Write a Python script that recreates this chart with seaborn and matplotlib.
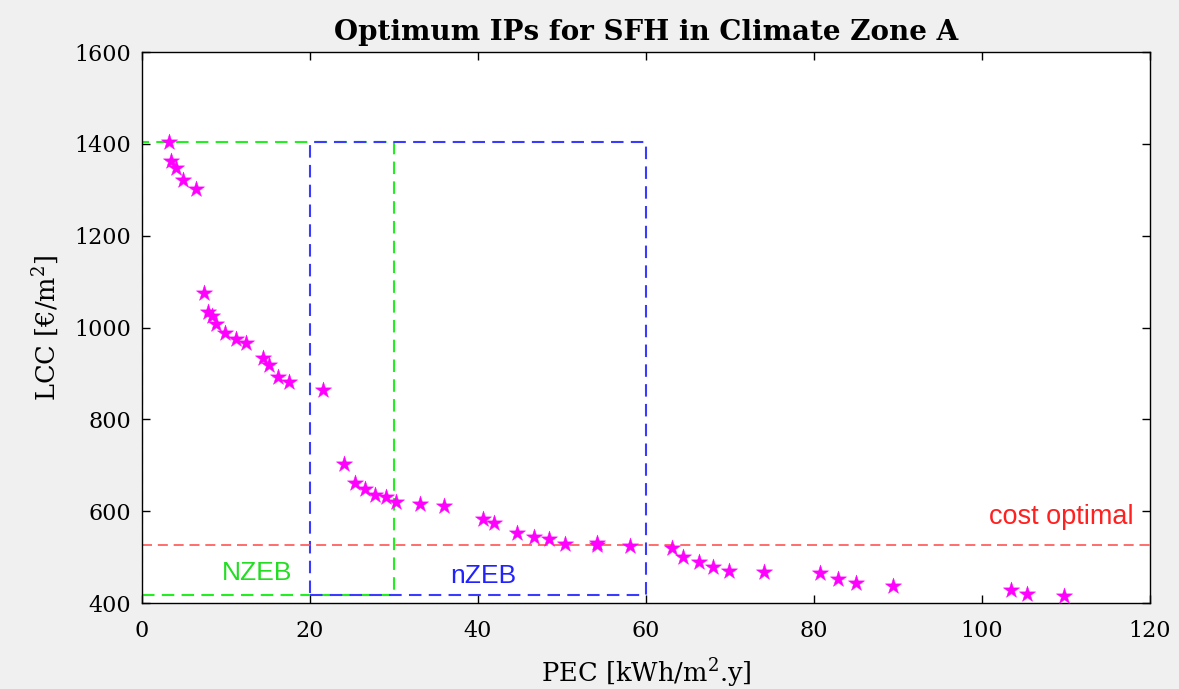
import matplotlib
matplotlib.use("Agg")
import matplotlib.pyplot as plt
import seaborn as sns
import pandas as pd

# Optimum intervention packages: primary energy consumption vs life-cycle cost
pec = [3.2, 3.5, 4.1, 4.9, 6.4, 7.4, 7.9, 8.3, 8.8, 9.9, 11.2, 12.4, 14.4, 15.1,
       16.2, 17.5, 21.6, 24.1, 25.4, 26.5, 27.8, 29.0, 30.2, 33.1, 35.9, 40.6,
       41.9, 44.7, 46.7, 48.5, 50.4, 54.2, 54.2, 58.1, 63.1, 64.4, 66.3, 68.0,
       69.9, 74.0, 80.7, 82.8, 85.0, 89.4, 103.5, 105.4, 109.8]
lcc = [1403, 1363, 1348, 1321, 1302, 1076, 1034, 1026, 1008, 987, 975, 967, 933,
       918, 893, 881, 865, 702, 662, 648, 635, 630, 619, 616, 611, 584, 574, 552,
       544, 540, 529, 531, 526, 524, 520, 500, 490, 479, 470, 468, 465, 452, 443,
       438, 428, 419, 416]

cost_optimal_lcc = 526
nzeb_pec_range = [0, 30]
nzeb_lcc_range = [418, 1405]
nzeb_near_pec_range = [20, 60]
nzeb_near_lcc_range = [418, 1405]

x_ticks = [0, 20, 40, 60, 80, 100, 120]
y_ticks = [400, 600, 800, 1000, 1200, 1400, 1600]

df = pd.DataFrame({"PEC": pec, "LCC": lcc})

sns.set_theme(style="ticks")
plt.rcParams["font.family"] = ["DejaVu Serif"]
plt.rcParams["mathtext.fontset"] = "dejavuserif"
plt.rcParams["text.color"] = "black"
plt.rcParams["axes.labelcolor"] = "black"

fig = plt.figure(figsize=(11.79, 6.89), dpi=100, facecolor="#f0f0f0")
ax = fig.add_axes([0.1204, 0.1248, 0.855, 0.7997])
ax.set_facecolor("white")

sns.scatterplot(data=df, x="PEC", y="LCC", marker="*", s=150, color="#ff00ff",
                edgecolor="#ff00ff", linewidth=0.3, ax=ax, zorder=3)


def dashed_box(xr, yr, color):
    xs = [xr[0], xr[1], xr[1], xr[0], xr[0]]
    ys = [yr[0], yr[0], yr[1], yr[1], yr[0]]
    ax.plot(xs, ys, color=color, linestyle=(0, (6, 3.5)), linewidth=1.5, zorder=2)


dashed_box(nzeb_pec_range, nzeb_lcc_range, "#22ee22")
dashed_box(nzeb_near_pec_range, nzeb_near_lcc_range, "#3b3bff")
ax.axhline(cost_optimal_lcc, color="#ff5555", linestyle=(0, (6, 3.5)), linewidth=1.2, zorder=2)

sans = ["Liberation Sans", "DejaVu Sans"]
ax.text(13.7, 465, "NZEB", color="#22dd22", fontsize=19, ha="center", va="center", family=sans)
ax.text(40.6, 459, "nZEB", color="#2222ff", fontsize=19, ha="center", va="center", family=sans)
ax.text(118, 587, "cost optimal", color="#ff2020", fontsize=19.5, ha="right", va="center", family=sans)

ax.set_xlim(0, 120)
ax.set_ylim(400, 1600)
ax.set_xticks(x_ticks)
ax.set_yticks(y_ticks)
ax.tick_params(direction="in", length=6, width=1, top=True, right=True,
               labelsize=16, colors="black")
ax.tick_params(axis="x", pad=12)
ax.tick_params(axis="y", pad=8)
for s in ax.spines.values():
    s.set_color("black")
    s.set_linewidth(1.0)

ax.set_xlabel("PEC [kWh/m$^2$.y]", fontsize=18.5, labelpad=11)
ax.set_ylabel("LCC [€/m$^2$]", fontsize=18.5, labelpad=9)
ax.set_title("Optimum IPs for SFH in Climate Zone A", fontsize=20, fontweight="bold", pad=9)

fig.savefig("out.png", dpi=100, facecolor=fig.get_facecolor())
